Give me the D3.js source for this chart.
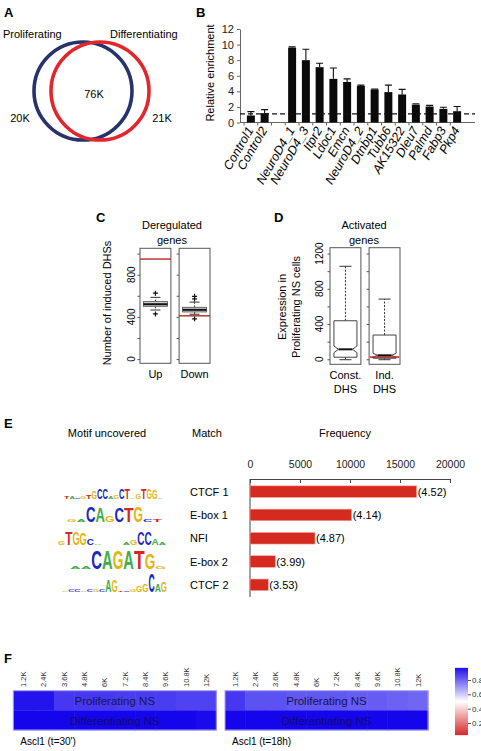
<!DOCTYPE html>
<html>
<head>
<meta charset="utf-8">
<script src="https://cdn.jsdelivr.net/npm/d3@7"></script>
<style>
body { margin: 0; background: #fff; }
svg { font-family: "Liberation Sans", Arial, sans-serif; }
</style>
</head>
<body>
<svg id="fig" width="481" height="751"></svg>
<script>
// ---------- data ----------
// A: venn
const vennSets = ["Proliferating", "Differentiating"];
const vennCounts = ["20K", "76K", "21K"];

// B: relative enrichment
const enrichGenes = ["Control1", "Control2", "NeuroD4_1", "NeuroD4_3", "Itpr2", "Ldoc1", "Emcn",
  "NeuroD4_2", "Dtnbp1", "Tubb6", "AK15322", "Dleu7", "Palmd", "Fabp3", "Pkp4"];
const enrichValues = [0.9, 1.2, 9.6, 8.0, 7.1, 5.6, 5.2, 4.7, 4.25, 3.9, 3.6, 2.3, 2.05, 1.75, 1.45];
const enrichErrTop = [1.4, 1.65, 9.7, 9.4, 7.6, 7.0, 5.6, 4.8, 4.3, 4.8, 4.25, 2.4, 2.2, 1.95, 2.05];
const enrichTicks = [0, 2, 4, 6, 8, 10, 12];
const enrichBaseline = 1.1;

// C: deregulated genes (boxplots of random expectation + observed)
const deregGroups = ["Up", "Down"];
const deregQ1 = [500, 447];
const deregMedian = [520, 467];
const deregQ3 = [545, 490];
const deregLow = [465, 425];
const deregHigh = [585, 540];
const deregOutliers = [[428, 625], [382, 570, 595]];
const deregObserved = [948, 410];
const deregTicks = [0, 200, 400, 600, 800, 1000];
const deregLabels = [0, 400, 800];

// D: activated genes
const activGroups = [["Const.", "DHS"], ["Ind.", "DHS"]];
const activQ1 = [23, 12];
const activMedian = [113, 45];
const activQ3 = [437, 275];
const activLow = [-5, -5];
const activHigh = [1055, 683];
const activNotch = [38, 22];
const activRef = [null, 25];
const activTicks = [0, 200, 400, 600, 800, 1000, 1200];
const activLabels = [0, 400, 800, 1200];

// E: motifs
const motifMatch = ["CTCF 1", "E-box 1", "NFI", "E-box 2", "CTCF 2"];
const motifFreq = [16670, 10170, 6500, 2530, 1830];
const motifScore = ["(4.52)", "(4.14)", "(4.87)", "(3.99)", "(3.53)"];
const freqTicks = [0, 5000, 10000, 15000, 20000];
const logoLetters = [
  ["T","A","C","G","T","G","C","C","A","G","C","T","A","G","T","G","G","A"],
  ["G","A","C","A","G","C","T","G","C","T"],
  ["G","T","G","G","C","A","","","","A","G","C","C","A","A"],
  ["A","A","C","A","G","A","T","G","G"],
  ["G","C","C","A","C","G","C","A","G","T","C","G","G","G","C","A","G"]
];
const logoHeights = [
  [2, 2, 1.5, 2, 4, 8, 11, 11, 3, 4, 11, 11, 1, 5, 10, 11, 9, 1],
  [2, 3, 16, 14, 6, 15, 15, 16, 3, 3],
  [4, 13, 13, 12, 6, 1.5, 0, 0, 0, 2, 5, 13, 13, 7, 2],
  [2, 2.5, 18, 18, 18, 18, 18, 16, 3],
  [1, 3, 3, 1.5, 2, 3, 2, 12, 12, 1, 1.5, 2, 7, 8, 18, 8, 10]
];
const baseColors = { A: "#3fae49", C: "#2124c8", G: "#e2b414", T: "#d8231f" };

// F: heatmaps
const heatBins = ["1.2K", "2.4K", "3.6K", "4.8K", "6K", "7.2K", "8.4K", "9.6K", "10.8K", "12K"];
const heatRows = ["Proliferating NS", "Differentiating NS"];
const ascl30Prolif = [0.96, 0.96, 0.89, 0.89, 0.89, 0.88, 0.88, 0.88, 0.87, 0.87];
const ascl30Diff = [0.99, 0.99, 0.99, 0.99, 0.99, 0.99, 0.99, 0.99, 0.99, 0.98];
const ascl18Prolif = [0.89, 0.84, 0.84, 0.83, 0.83, 0.83, 0.82, 0.82, 0.81, 0.80];
const ascl18Diff = [0.99, 0.99, 0.99, 0.99, 0.99, 0.99, 0.99, 0.99, 0.99, 0.99];
const heatTitles = ["Ascl1 (t=30')", "Ascl1 (t=18h)"];
const legendTicks = [0.2, 0.4, 0.6, 0.8];

// ---------- drawing ----------
const svg = d3.select("#fig");

function panelLetter(t, x, y) {
  svg.append("text").attr("x", x).attr("y", y).text(t)
    .style("font-size", "13px").style("font-weight", "bold");
}

// ===== A =====
panelLetter("A", 4, 17);
const vennX = d3.scaleLinear().domain([0, 1]).range([83, 100]);
const vennR = 49;
[["#27336a", 0], ["#e2262e", 1]].forEach(([c, i]) => {
  svg.append("circle").attr("cx", vennX(i)).attr("cy", 91).attr("r", vennR)
    .attr("fill", "none").attr("stroke", c).attr("stroke-width", 3.6);
});
svg.append("text").attr("x", 3).attr("y", 38).text(vennSets[0]).style("font-size", "11px");
svg.append("text").attr("x", 110).attr("y", 38).text(vennSets[1]).style("font-size", "11px");
svg.append("text").attr("x", 20).attr("y", 122).attr("text-anchor", "middle").text(vennCounts[0]).style("font-size", "11px");
svg.append("text").attr("x", 94).attr("y", 98).attr("text-anchor", "middle").text(vennCounts[1]).style("font-size", "11px");
svg.append("text").attr("x", 162).attr("y", 122).attr("text-anchor", "middle").text(vennCounts[2]).style("font-size", "11px");

// ===== B =====
panelLetter("B", 196, 17);
const bDomain = enrichGenes.slice(0, 2).concat([""], enrichGenes.slice(2));
const xB = d3.scaleBand().domain(bDomain).range([244, 464]).paddingInner(0.42).paddingOuter(0.21);
const yB = d3.scaleLinear().domain([0, 12]).range([122.5, 29]);
const gB = svg.append("g");

gB.append("g").attr("transform", "translate(240,0)")
  .call(d3.axisLeft(yB).tickValues(enrichTicks).tickSize(3).tickSizeOuter(0))
  .call(g => g.selectAll("text").style("font-size", "11px").attr("fill", "#222"))
  .call(g => g.selectAll("line,path").attr("stroke", "#666"));
gB.append("line").attr("x1", 240).attr("x2", 475).attr("y1", yB(0)).attr("y2", yB(0)).attr("stroke", "#666");
// small ticks between categories
bDomain.forEach((d, i) => {
  const x = xB(d) - xB.step() * 0.21;
  gB.append("line").attr("x1", x).attr("x2", x).attr("y1", yB(0)).attr("y2", yB(0) + 3).attr("stroke", "#666");
});
gB.append("text").attr("transform", "translate(214,73) rotate(-90)").attr("text-anchor", "middle")
  .text("Relative enrichment").style("font-size", "11px");

const bw = xB.bandwidth();
gB.selectAll(".errB").data(enrichGenes).enter().append("path")
  .attr("class", "errB")
  .attr("d", (d, i) => {
    const cx = xB(d) + bw / 2;
    return `M${cx},${yB(enrichValues[i])}V${yB(enrichErrTop[i])}M${cx - 3.5},${yB(enrichErrTop[i])}H${cx + 3.5}`;
  })
  .attr("stroke", "#111").attr("stroke-width", 1.1).attr("fill", "none");
gB.selectAll(".barB").data(enrichGenes).enter().append("rect")
  .attr("x", d => xB(d)).attr("width", bw)
  .attr("y", (d, i) => yB(enrichValues[i])).attr("height", (d, i) => yB(0) - yB(enrichValues[i]))
  .attr("fill", "#0a0a0a");
gB.append("line").attr("x1", 240).attr("x2", 475)
  .attr("y1", yB(enrichBaseline)).attr("y2", yB(enrichBaseline))
  .attr("stroke", "#111").attr("stroke-width", 1.3).attr("stroke-dasharray", "5,3");
gB.selectAll(".lblB").data(enrichGenes).enter().append("text")
  .attr("transform", d => `translate(${xB(d) + bw / 2 + 3},${130}) rotate(-60)`)
  .attr("text-anchor", "end").text(d => d)
  .style("font-size", "12.5px").style("font-style", "italic");

// ===== boxplot helper =====
function boxPanel(opts) {
  const { groups, range, y, ticks, labels, labelX, titleX, title } = opts;
  const x = d3.scaleBand().domain(d3.range(groups.length)).range(range).paddingInner(0.21);
  const g = svg.append("g");
  const top = y.range()[1], bot = y.range()[0];
  groups.forEach((grp, i) => {
    const x0 = x(i), w = x.bandwidth();
    g.append("rect").attr("x", x0).attr("y", top).attr("width", w).attr("height", bot - top)
      .attr("fill", "none").attr("stroke", "#555").attr("stroke-width", 1);
    g.append("g").attr("transform", `translate(${x0},0)`)
      .call(d3.axisLeft(y).tickValues(ticks).tickSize(2.5).tickFormat(""))
      .call(s => s.select(".domain").remove())
      .call(s => s.selectAll("line").attr("stroke", "#555"));
    const lbl = Array.isArray(grp) ? grp : [grp];
    lbl.forEach((t, k) => {
      g.append("text").attr("x", x0 + w / 2).attr("y", bot + 15 + k * 13.5)
        .attr("text-anchor", "middle").text(t).style("font-size", "11px");
    });
  });
  labels.forEach(v => {
    g.append("text").attr("transform", `translate(${labelX},${y(v)}) rotate(-90)`)
      .attr("text-anchor", "middle").text(v).style("font-size", "10px");
  });
  title.forEach((t, k) => {
    g.append("text").attr("x", titleX).attr("y", top - 19 + k * 15).attr("text-anchor", "middle")
      .text(t).style("font-size", "11px");
  });
  return { x, g };
}

// ===== C =====
panelLetter("C", 96, 222);
const yC = d3.scaleLinear().domain([-40, 1050]).range([363.3, 248.3]);
const pC = boxPanel({ groups: deregGroups, range: [140, 210], y: yC, ticks: deregTicks,
  labels: deregLabels, labelX: 135, titleX: 172, title: ["Deregulated", "genes"] });
svg.append("text").attr("transform", "translate(111,303) rotate(-90)").attr("text-anchor", "middle")
  .text("Number of induced DHSs").style("font-size", "11px");
deregGroups.forEach((grp, i) => {
  const x0 = pC.x(i), w = pC.x.bandwidth(), cx = x0 + w / 2, bwid = 24;
  const g = pC.g;
  g.append("path").attr("d", `M${cx},${yC(deregQ3[i])}V${yC(deregHigh[i])}M${cx},${yC(deregQ1[i])}V${yC(deregLow[i])}`)
    .attr("stroke", "#333").attr("stroke-dasharray", "2,1.5").attr("fill", "none");
  g.append("path").attr("d", `M${cx - 5},${yC(deregHigh[i])}H${cx + 5}M${cx - 5},${yC(deregLow[i])}H${cx + 5}`)
    .attr("stroke", "#333").attr("fill", "none");
  g.append("rect").attr("x", cx - bwid / 2).attr("width", bwid)
    .attr("y", yC(deregQ3[i])).attr("height", yC(deregQ1[i]) - yC(deregQ3[i]))
    .attr("fill", "#d6d6d6").attr("stroke", "#666");
  g.append("line").attr("x1", cx - bwid / 2).attr("x2", cx + bwid / 2)
    .attr("y1", yC(deregMedian[i])).attr("y2", yC(deregMedian[i])).attr("stroke", "#111").attr("stroke-width", 2);
  deregOutliers[i].forEach(v => {
    g.append("path").attr("d", `M${cx - 2.5},${yC(v)}H${cx + 2.5}M${cx},${yC(v) - 2.5}V${yC(v) + 2.5}`)
      .attr("stroke", "#111").attr("stroke-width", 1.2);
  });
  g.append("line").attr("x1", x0).attr("x2", x0 + w).attr("y1", yC(deregObserved[i])).attr("y2", yC(deregObserved[i]))
    .attr("stroke", "#b8262a").attr("stroke-width", 1.4);
});

// ===== D =====
panelLetter("D", 274, 222);
const yD = d3.scaleLinear().domain([-57, 1266]).range([364.3, 247.7]);
const pD = boxPanel({ groups: activGroups, range: [330, 400], y: yD, ticks: activTicks,
  labels: activLabels, labelX: 323, titleX: 364, title: ["Activated", "genes"] });
svg.append("text").attr("transform", "translate(286,307) rotate(-90)").attr("text-anchor", "middle")
  .text("Expression in").style("font-size", "11px");
svg.append("text").attr("transform", "translate(300,307) rotate(-90)").attr("text-anchor", "middle")
  .text("Proliferating NS cells").style("font-size", "11px");
activGroups.forEach((grp, i) => {
  const x0 = pD.x(i), w = pD.x.bandwidth(), cx = x0 + w / 2;
  const g = pD.g;
  const xl = cx - 11.5, xr = cx + 11.5, nl = cx - 7, nr = cx + 7;
  const nTop = yD(Math.min(activQ3[i], activMedian[i] + activNotch[i]));
  const nBot = yD(Math.max(activQ1[i], activMedian[i] - activNotch[i]));
  const ym = yD(activMedian[i]), yq3 = yD(activQ3[i]), yq1 = yD(activQ1[i]);
  g.append("path").attr("d", `M${cx},${yq3}V${yD(activHigh[i])}M${cx},${yq1}V${yD(activLow[i])}`)
    .attr("stroke", "#333").attr("stroke-dasharray", "2,1.5").attr("fill", "none");
  g.append("path").attr("d", `M${cx - 6},${yD(activHigh[i])}H${cx + 6}M${cx - 6},${yD(activLow[i])}H${cx + 6}`)
    .attr("stroke", "#333").attr("fill", "none");
  g.append("path")
    .attr("d", `M${xl},${yq3}H${xr}V${nTop}L${nr},${ym}L${xr},${nBot}V${yq1}H${xl}V${nBot}L${nl},${ym}L${xl},${nTop}Z`)
    .attr("fill", "#fff").attr("stroke", "#444");
  if (activRef[i] !== null) {
    g.append("line").attr("x1", x0 + 1).attr("x2", x0 + w - 1).attr("y1", yD(activRef[i])).attr("y2", yD(activRef[i]))
      .attr("stroke", "#b8262a").attr("stroke-width", 1.6);
  }
  g.append("line").attr("x1", nl).attr("x2", nr).attr("y1", ym).attr("y2", ym)
    .attr("stroke", "#111").attr("stroke-width", 2);
});

// ===== E =====
panelLetter("E", 4, 428);
const hdr = [["Motif uncovered", 107], ["Match", 207], ["Frequency", 345]];
hdr.forEach(([t, x]) => svg.append("text").attr("x", x).attr("y", 437).attr("text-anchor", "middle")
  .text(t).style("font-size", "11px"));
const xE = d3.scaleLinear().domain([0, 20000]).range([250, 450]);
const yE = d3.scaleBand().domain(motifMatch).range([480, 596.5]).paddingInner(0.5).paddingOuter(0.25);
svg.append("g").attr("transform", "translate(0,479)")
  .call(d3.axisTop(xE).tickValues(freqTicks).tickSize(-4).tickPadding(11).tickSizeOuter(0).tickFormat(d3.format("d")))
  .call(g => g.selectAll("text").style("font-size", "10.5px").attr("fill", "#222"))
  .call(g => g.selectAll("line,path").attr("stroke", "#444"));
svg.append("line").attr("x1", xE(0)).attr("x2", xE(0)).attr("y1", 479).attr("y2", 597).attr("stroke", "#444");
svg.selectAll(".barE").data(motifMatch).enter().append("rect")
  .attr("x", xE(0)).attr("y", d => yE(d)).attr("height", yE.bandwidth())
  .attr("width", (d, i) => xE(motifFreq[i]) - xE(0))
  .attr("fill", "#d42a20").attr("stroke", "#f3b0a8").attr("stroke-width", 0.6);
svg.selectAll(".scoreE").data(motifMatch).enter().append("text")
  .attr("x", (d, i) => xE(motifFreq[i]) + 1).attr("y", d => yE(d) + yE.bandwidth() / 2 + 4)
  .text((d, i) => motifScore[i]).style("font-size", "11px");
svg.selectAll(".matchE").data(motifMatch).enter().append("text")
  .attr("x", 190).attr("y", d => yE(d) + yE.bandwidth() / 2 + 4)
  .text(d => d).style("font-size", "11px");

// sequence logos
const logoRanges = [[64, 163], [67, 162], [58, 166], [70, 166], [62, 167]];
logoLetters.forEach((letters, r) => {
  const xl = d3.scaleBand().domain(d3.range(letters.length)).range(logoRanges[r]);
  const base = yE(motifMatch[r]) + yE.bandwidth() / 2 + 7;
  letters.forEach((L, k) => {
    const h = logoHeights[r][k];
    if (!L || !h) return;
    svg.append("text")
      .attr("transform", `translate(${xl(k)},${base}) scale(1,${h / 14.3})`)
      .attr("textLength", xl.bandwidth()).attr("lengthAdjust", "spacingAndGlyphs")
      .text(L).attr("fill", baseColors[L])
      .style("font-size", "20px").style("font-weight", "bold");
  });
});

// ===== F =====
panelLetter("F", 4, 663);
const heatColor = d3.scaleLinear().domain([0, 0.5, 1]).range(["#d41a1a", "#ffffff", "#1000ec"]);
const yF = d3.scaleBand().domain(heatRows).range([690.7, 730]);
const heatData = [[ascl30Prolif, ascl30Diff], [ascl18Prolif, ascl18Diff]];
const heatRanges = [[13.3, 216.3], [225, 428]];
heatData.forEach((rows, h) => {
  const xF = d3.scaleBand().domain(heatBins).range(heatRanges[h]);
  const g = svg.append("g");
  rows.forEach((vals, r) => {
    g.selectAll(null).data(heatBins).enter().append("rect")
      .attr("x", d => xF(d)).attr("width", xF.bandwidth() + 0.5)
      .attr("y", yF(heatRows[r])).attr("height", yF.bandwidth() + 0.3)
      .attr("fill", (d, i) => heatColor(vals[i]));
  });
  g.append("rect").attr("x", heatRanges[h][0]).attr("y", 690.7)
    .attr("width", heatRanges[h][1] - heatRanges[h][0]).attr("height", 730 - 690.7)
    .attr("fill", "none").attr("stroke", "#a9a2f2").attr("stroke-width", 1);
  g.selectAll(null).data(heatBins).enter().append("text")
    .attr("transform", d => `translate(${xF(d) + xF.bandwidth() / 2 + 2.7},687) rotate(-90)`)
    .text(d => d).style("font-size", "7.5px").attr("fill", "#333");
  const cx = (heatRanges[h][0] + heatRanges[h][1]) / 2;
  g.append("text").attr("x", cx).attr("y", yF(heatRows[0]) + yF.bandwidth() / 2 + 4.5)
    .attr("text-anchor", "middle").text(heatRows[0]).style("font-size", "11.5px").attr("fill", "#16164e");
  g.append("text").attr("x", cx).attr("y", yF(heatRows[1]) + yF.bandwidth() / 2 + 4.5)
    .attr("text-anchor", "middle").text(heatRows[1]).style("font-size", "11.5px").attr("fill", "#120a6a");
  g.append("text").attr("x", heatRanges[h][0] + 7).attr("y", 745)
    .text(heatTitles[h]).style("font-size", "10px");
});

// colour legend
const yLeg = d3.scaleLinear().domain([0, 1]).range([737.3, 665.7]);
const grad = svg.append("defs").append("linearGradient").attr("id", "legGrad")
  .attr("x1", 0).attr("x2", 0).attr("y1", 1).attr("y2", 0);
d3.range(0.03, 0.98, 0.047).forEach(v => {
  grad.append("stop").attr("offset", (v - 0.03) / 0.94).attr("stop-color", heatColor(v));
});
svg.append("rect").attr("x", 455).attr("y", yLeg(0.97)).attr("width", 13)
  .attr("height", yLeg(0.03) - yLeg(0.97)).attr("fill", "url(#legGrad)");
svg.append("g").attr("transform", "translate(468,0)")
  .call(d3.axisRight(yLeg).tickValues(legendTicks).tickSize(3).tickPadding(1).tickFormat(d3.format(".1f")))
  .call(g => g.select(".domain").remove())
  .call(g => g.selectAll("text").style("font-size", "8px").attr("fill", "#333"))
  .call(g => g.selectAll("line").attr("stroke", "#555"));
</script>
</body>
</html>
